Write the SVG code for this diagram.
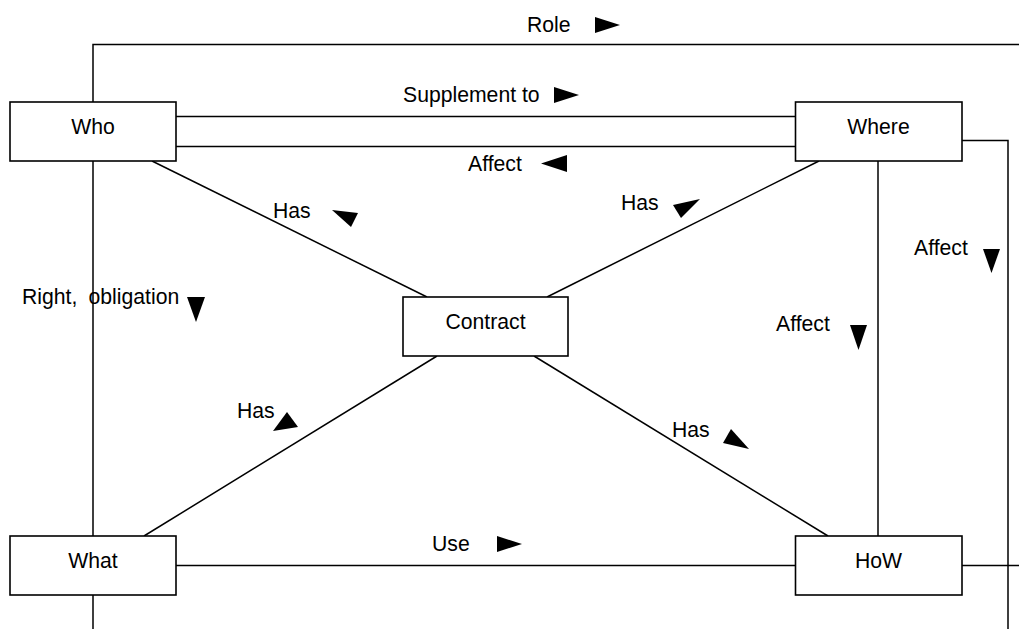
<svg xmlns="http://www.w3.org/2000/svg" width="1019" height="629" viewBox="0 0 1019 629">
<style>
.box{fill:#fff;stroke:#000;stroke-width:1.6}
.ln{fill:none;stroke:#000;stroke-width:1.5}
.t{font-family:"Liberation Sans",Arial,sans-serif;font-size:21.2px;fill:#000}
.c{text-anchor:middle}
.ah{fill:#000;stroke:none}
</style>
<rect width="1019" height="629" fill="#fff"/>
<g id="connectors">
<polyline class="ln" points="93,629 93,44.5 1019,44.5"/>
<line class="ln" x1="176" y1="116.5" x2="795" y2="116.5"/>
<line class="ln" x1="176" y1="146.5" x2="795" y2="146.5"/>
<polyline class="ln" points="962,140.5 1008,140.5 1008,629"/>
<line class="ln" x1="878" y1="161" x2="878" y2="536"/>
<line class="ln" x1="176" y1="565.5" x2="795" y2="565.5"/>
<line class="ln" x1="962" y1="565.5" x2="1019" y2="565.5"/>
<line class="ln" x1="152" y1="161" x2="427" y2="297"/>
<line class="ln" x1="819" y1="161" x2="547" y2="297"/>
<line class="ln" x1="437" y1="356" x2="144" y2="536"/>
<line class="ln" x1="534" y1="356" x2="828" y2="536"/>
<text class="t" x="527" y="32">Role</text>
<polygon class="ah" points="595,17 595,33 620,25"/>
<text class="t" x="403" y="102">Supplement to</text>
<polygon class="ah" points="554,87 554,103 579,95"/>
<text class="t" x="468" y="171">Affect</text>
<polygon class="ah" points="567,155 567,172 541,163.5"/>
<text class="t" x="273" y="218">Has</text>
<polygon class="ah" points="332,210 358,213 351,227"/>
<text class="t" x="621" y="210">Has</text>
<polygon class="ah" points="673,205 700,199 681,218"/>
<text class="t" x="237" y="418">Has</text>
<polygon class="ah" points="273,431 287,412 298,427"/>
<text class="t" x="672" y="437">Has</text>
<polygon class="ah" points="723,443 731,429 749,449"/>
<text class="t" x="22" y="304">Right,<tspan x="88.5">obligation</tspan></text>
<polygon class="ah" points="187,297 205,297 196,322"/>
<text class="t" x="914" y="255">Affect</text>
<polygon class="ah" points="983,249 1000,249 991.5,273"/>
<text class="t" x="776" y="331">Affect</text>
<polygon class="ah" points="850,325 867,325 858.5,350"/>
<text class="t" x="432" y="551">Use</text>
<polygon class="ah" points="497,536 497,552 522,544"/>
</g>
<g id="who"><rect class="box" x="10" y="102" width="166" height="59"/><text class="t c" x="93" y="134">Who</text></g>
<g id="where"><rect class="box" x="795.5" y="102" width="166.5" height="59"/><text class="t c" x="878.5" y="134">Where</text></g>
<g id="contract"><rect class="box" x="403" y="297" width="165" height="59"/><text class="t c" x="485.5" y="329">Contract</text></g>
<g id="what"><rect class="box" x="10" y="536" width="166" height="59"/><text class="t c" x="93" y="568">What</text></g>
<g id="how"><rect class="box" x="795.5" y="536" width="166.5" height="59"/><text class="t c" x="878.5" y="568">HoW</text></g>
</svg>
